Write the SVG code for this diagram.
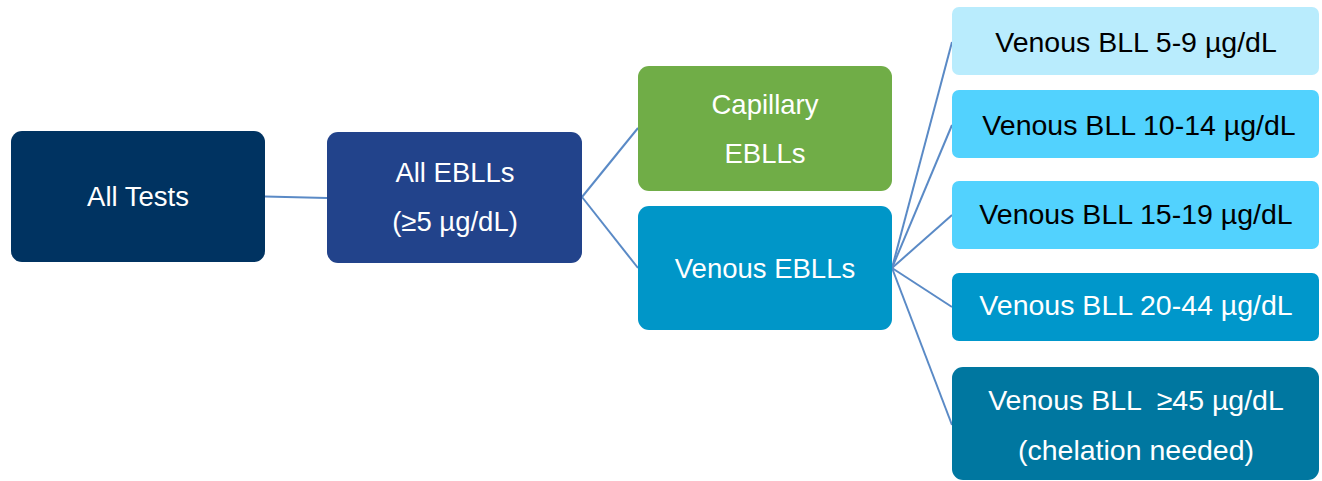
<svg xmlns="http://www.w3.org/2000/svg" width="1322" height="481" viewBox="0 0 1322 481">
<style>
  .t { font-family: "Liberation Sans", Arial, sans-serif; font-size: 27.5px; text-anchor: middle; white-space: pre; }
  .r { font-size: 28.5px; }
  .w { fill: #ffffff; }
  .k { fill: #000000; }
  .c { stroke: #5A8AC6; stroke-width: 2; fill: none; }
</style>
<rect width="1322" height="481" fill="#ffffff"/>
<g id="connectors">
  <line class="c" x1="265" y1="196.5" x2="327" y2="198"/>
  <line class="c" x1="582" y1="197" x2="638" y2="128"/>
  <line class="c" x1="582" y1="197" x2="638" y2="268"/>
  <line class="c" x1="892" y1="268" x2="952" y2="42"/>
  <line class="c" x1="892" y1="268" x2="952" y2="125"/>
  <line class="c" x1="892" y1="268" x2="952" y2="215"/>
  <line class="c" x1="892" y1="268" x2="952" y2="307"/>
  <line class="c" x1="892" y1="268" x2="952" y2="425"/>
</g>
<g id="all-tests">
  <rect x="11" y="131" width="254" height="131" rx="11" fill="#003361"/>
  <text class="t w" x="138" y="206">All Tests</text>
</g>
<g id="all-eblls">
  <rect x="327" y="132" width="255" height="131" rx="11" fill="#22438B"/>
  <text class="t w" x="455" y="182">All EBLLs</text>
  <text class="t w" x="455" y="231">(≥5 µg/dL)</text>
</g>
<g id="capillary">
  <rect x="638" y="66" width="254" height="125" rx="11" fill="#70AD47"/>
  <text class="t w" x="765" y="114">Capillary</text>
  <text class="t w" x="765" y="163">EBLLs</text>
</g>
<g id="venous">
  <rect x="638" y="206" width="254" height="124" rx="11" fill="#0096C8"/>
  <text class="t w" x="765" y="278">Venous EBLLs</text>
</g>
<g id="v5-9">
  <rect x="952" y="7" width="367" height="68" rx="7" fill="#B9ECFD"/>
  <text class="t r k" x="1136" y="52">Venous BLL 5-9 µg/dL</text>
</g>
<g id="v10-14">
  <rect x="952" y="90" width="367" height="68" rx="7" fill="#52D2FE"/>
  <text class="t r k" x="1139" y="135">Venous BLL 10-14 µg/dL</text>
</g>
<g id="v15-19">
  <rect x="952" y="181" width="367" height="68" rx="7" fill="#52D2FE"/>
  <text class="t r k" x="1136" y="224">Venous BLL 15-19 µg/dL</text>
</g>
<g id="v20-44">
  <rect x="952" y="273" width="367" height="68" rx="7" fill="#0097CB"/>
  <text class="t r w" x="1136" y="315">Venous BLL 20-44 µg/dL</text>
</g>
<g id="v45">
  <rect x="952" y="367" width="367" height="113" rx="11" fill="#0077A0"/>
  <text class="t r w" x="1136" y="410">Venous BLL  ≥45 µg/dL</text>
  <text class="t r w" x="1136" y="460">(chelation needed)</text>
</g>
</svg>
